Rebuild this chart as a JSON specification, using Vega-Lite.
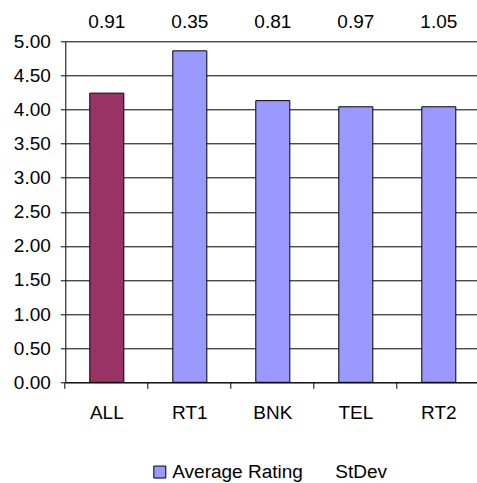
{
  "$schema": "https://vega.github.io/schema/vega-lite/v6.json",
  "width": 415,
  "height": 341,
  "autosize": "none",
  "padding": {"left": 65.3, "top": 41.3, "right": 0, "bottom": 101},
  "background": "white",
  "config": {"view": {"stroke": null}, "font": "Liberation Sans"},
  "data": {
    "values": [
      {"cat": "ALL", "avg": 4.24, "sd": "0.91", "series": "Average Rating"},
      {"cat": "RT1", "avg": 4.86, "sd": "0.35", "series": "Average Rating"},
      {"cat": "BNK", "avg": 4.13, "sd": "0.81", "series": "Average Rating"},
      {"cat": "TEL", "avg": 4.04, "sd": "0.97", "series": "Average Rating"},
      {"cat": "RT2", "avg": 4.04, "sd": "1.05", "series": "Average Rating"}
    ]
  },
  "layer": [
    {
      "mark": {"type": "bar", "stroke": "black", "strokeWidth": 1},
      "encoding": {
        "x": {
          "field": "cat",
          "type": "nominal",
          "sort": null,
          "scale": {"paddingInner": 0.59, "paddingOuter": 0.295},
          "axis": {
            "title": null,
            "labelAngle": 0,
            "bandPosition": -0.72,
            "tickSize": 6,
            "tickColor": "black",
            "domainColor": "black",
            "labelPadding": 15,
            "labelFontSize": 19,
            "labelColor": "black",
            "labelFont": "Liberation Sans",
            "labelOverlap": false,
            "grid": false
          }
        },
        "y": {
          "field": "avg",
          "type": "quantitative",
          "scale": {"domain": [0, 5], "nice": false},
          "axis": {
            "title": null,
            "values": [0, 0.5, 1, 1.5, 2, 2.5, 3, 3.5, 4, 4.5, 5],
            "format": ".2f",
            "grid": true,
            "gridColor": "black",
            "gridOpacity": 1,
            "gridWidth": 1,
            "domainColor": "black",
            "tickColor": "black",
            "tickSize": 5,
            "labelPadding": 10,
            "labelFontSize": 19,
            "labelColor": "black",
            "labelFont": "Liberation Sans",
            "labelOverlap": false,
            "labelFlush": false
          }
        },
        "fill": {
          "condition": {"test": "datum.cat === 'ALL'", "value": "#993366"},
          "field": "series",
          "type": "nominal",
          "scale": {"domain": ["Average Rating", "StDev"], "range": ["#9999FF", "rgba(0,0,0,0)"]},
          "legend": {
            "orient": "none",
            "legendX": 85,
            "legendY": 421,
            "direction": "horizontal",
            "title": null,
            "symbolType": "square",
            "symbolSize": 144,
            "symbolStrokeWidth": 1,
            "symbolStrokeColor": "black",
            "labelFontSize": 19,
            "labelColor": "black",
            "labelFont": "Liberation Sans",
            "labelOffset": 3,
            "columnPadding": 10,
            "encode": {
              "symbols": {
                "update": {
                  "strokeOpacity": {"signal": "datum.label === 'StDev' ? 0 : 1"}
                }
              }
            }
          }
        }
      }
    },
    {
      "mark": {"type": "text", "baseline": "alphabetic", "fontSize": 19, "font": "Liberation Sans", "color": "black"},
      "encoding": {
        "x": {
          "field": "cat",
          "type": "nominal",
          "sort": null,
          "axis": {
            "title": null,
            "labelAngle": 0,
            "bandPosition": -0.72,
            "tickSize": 6,
            "tickColor": "black",
            "domainColor": "black",
            "labelPadding": 15,
            "labelFontSize": 19,
            "labelColor": "black",
            "labelFont": "Liberation Sans",
            "labelOverlap": false,
            "grid": false
          }
        },
        "y": {
          "datum": 5.19,
          "type": "quantitative",
          "axis": {
            "title": null,
            "values": [0, 0.5, 1, 1.5, 2, 2.5, 3, 3.5, 4, 4.5, 5],
            "format": ".2f",
            "grid": true,
            "gridColor": "black",
            "gridOpacity": 1,
            "gridWidth": 1,
            "domainColor": "black",
            "tickColor": "black",
            "tickSize": 5,
            "labelPadding": 10,
            "labelFontSize": 19,
            "labelColor": "black",
            "labelFont": "Liberation Sans",
            "labelOverlap": false,
            "labelFlush": false
          }
        },
        "text": {"field": "sd"}
      }
    }
  ]
}
